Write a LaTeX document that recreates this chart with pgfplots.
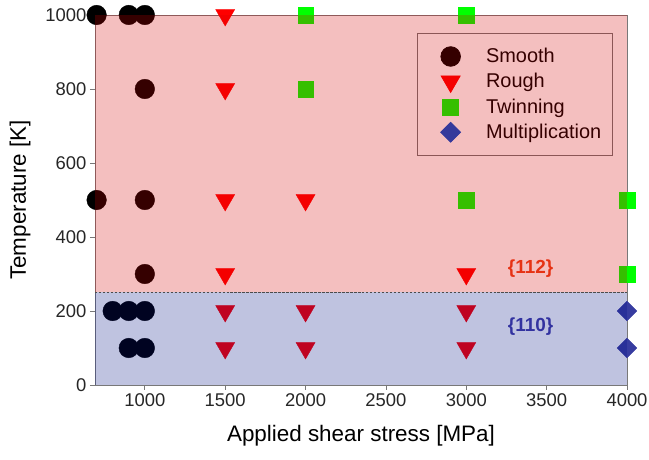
\documentclass[border=0pt]{standalone}
\usepackage{pgfplots}
\pgfplotsset{compat=1.18}
\usepackage{fontspec}
\setmainfont{Liberation Sans}
\definecolor{axgray}{RGB}{120,120,120}
\definecolor{ovred}{rgb}{0.83,0,0}
\definecolor{ovblue}{rgb}{0,0.06,0.52}
\definecolor{mgreen}{RGB}{0,255,0}
\definecolor{mblue}{RGB}{55,60,160}
\definecolor{legblue}{RGB}{0,77,208}
\begin{document}
\begin{tikzpicture}
\begin{axis}[
  name=ax,
  set layers,
  scale only axis,
  width=532bp, height=370bp,
  xmin=690, xmax=4000, ymin=0, ymax=1000,
  xtick={1000,1500,2000,2500,3000,3500,4000},
  ytick={0,200,400,600,800,1000},
  tick pos=left,
  tick align=outside,
  major tick length=5bp,
  axis line style={axgray, line width=0.8pt},
  every tick/.style={axgray, line width=0.8pt},
  /pgf/number format/assume math mode=true,
  /pgf/number format/1000 sep={},
  tick label style={font=\fontsize{18.5}{20}\selectfont, text=black!85},
  xlabel={Applied shear stress [MPa]},
  ylabel={Temperature [K]},
  label style={font=\fontsize{22.5}{25}\selectfont},
  xlabel style={yshift=-12bp},
  ylabel style={yshift=8bp},
  clip=false,
  legend style={at={(rel axis cs:0.605,0.951)}, anchor=north west,
    draw=black!55, line width=0.8pt, fill=none, text=black,
    font=\fontsize{20}{23}\selectfont, row sep=5bp,
    inner xsep=9bp, inner ysep=13bp},
  legend cell align=left,
  legend image code/.code={\path (-24bp,0) (33bp,0); \draw[#1] plot coordinates {(0cm,0cm)};},
]
% Smooth
\addplot[only marks, mark=*, mark size=9.8bp, mark options={fill=black, draw=black}, forget plot]
  coordinates {(700,1000) (900,1000) (1000,1000) (1000,800) (700,500) (1000,500) (1000,300)
               (800,200) (900,200) (1000,200) (900,100) (1000,100)};
% Rough
\addplot[only marks, mark=triangle*, mark size=11bp, mark options={rotate=180, fill=red, draw=red}, forget plot]
  coordinates {(1500,1000) (1500,800) (1500,500) (2000,500) (1500,300) (3000,300)
               (1500,200) (2000,200) (3000,200) (1500,100) (2000,100) (3000,100)};
% Twinning
\addplot[only marks, mark=square*, mark size=7.8bp, mark options={fill=mgreen, draw=mgreen}, forget plot]
  coordinates {(2000,1000) (3000,1000) (2000,800) (3000,500) (4000,500) (4000,300)};
% Multiplication
\addplot[only marks, mark=square*, mark size=7bp, mark options={rotate=45, fill=mblue, draw=mblue}, forget plot]
  coordinates {(4000,200) (4000,100)};
% legend images
\addlegendimage{only marks, mark=*, mark size=9.8bp, mark options={fill=black, draw=black}}
\addlegendentry{Smooth}
\addlegendimage{only marks, mark=triangle*, mark size=11bp, mark options={rotate=180, fill=red, draw=red}}
\addlegendentry{Rough}
\addlegendimage{only marks, mark=square*, mark size=7.8bp, mark options={fill=mgreen, draw=mgreen}}
\addlegendentry{Twinning}
\addlegendimage{only marks, mark=square*, mark size=7bp, mark options={rotate=45, fill=legblue, draw=legblue}}
\addlegendentry{Multiplication}
% regions (overlaid on the markers)
\begin{pgfonlayer}{axis foreground}
\fill[ovred, fill opacity=0.25] (axis cs:690,250) rectangle (axis cs:4000,1000);
\fill[ovblue, fill opacity=0.25] (axis cs:690,0) rectangle (axis cs:4000,250);
\draw[black!70, line width=0.8pt, dash pattern=on 2.5pt off 1.5pt] (axis cs:690,250) -- (axis cs:4000,250);
\node[font=\fontsize{19}{21}\selectfont\bfseries, text={rgb,255:red,230;green,50;blue,20}] at (axis cs:3400,315) {\{112\}};
\node[font=\fontsize{19}{21}\selectfont\bfseries, text={rgb,255:red,50;green,50;blue,160}] at (axis cs:3400,158) {\{110\}};
\end{pgfonlayer}
\end{axis}
\pgfresetboundingbox
\path[use as bounding box] ([xshift=-95bp,yshift=-75bp]ax.south west) rectangle ([xshift=22bp,yshift=15bp]ax.north east);
\end{tikzpicture}
\end{document}
